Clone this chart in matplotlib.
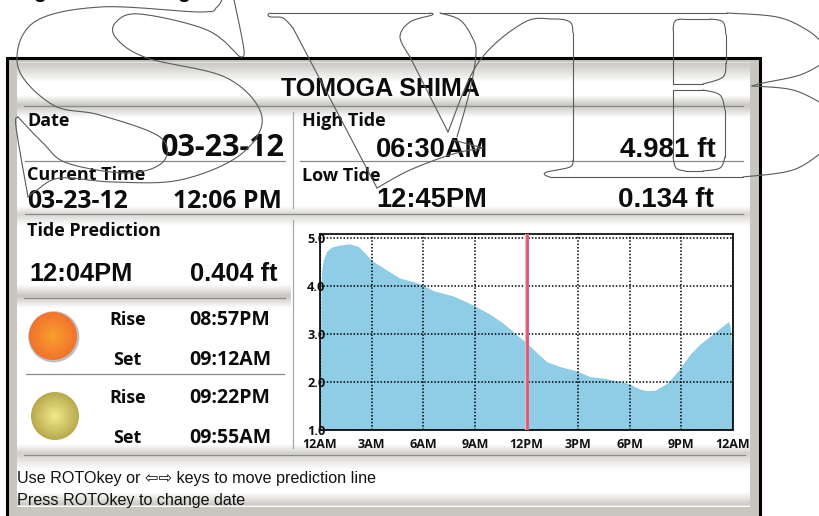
import numpy as np
import matplotlib
matplotlib.use("Agg")
from matplotlib import pyplot as plt
from matplotlib.patches import Circle, Rectangle

W, H = 819, 516

# tide curve
hours = [0, 0.06, 0.10, 0.19, 0.39, 0.68, 1.16, 1.74, 2.23, 2.62, 3.0, 3.88, 4.65, 5.43, 5.97,
         6.59, 7.75, 8.91, 9.88, 10.66, 11.43, 12.02, 12.6, 13.18, 13.95, 14.92, 15.7, 16.47,
         17.44, 17.93, 18.6, 18.99, 19.48, 20.16, 20.83, 21.51, 22.09, 22.87, 23.74, 23.84,
         23.93, 24]
tide_ft = [1.0, 4.1, 4.33, 4.54, 4.72, 4.81, 4.85, 4.875, 4.82, 4.68, 4.53, 4.33, 4.16, 4.09, 4.02,
           3.90, 3.79, 3.60, 3.41, 3.22, 2.98, 2.81, 2.61, 2.42, 2.32, 2.23, 2.11, 2.08,
           2.01, 1.97, 1.85, 1.82, 1.83, 1.97, 2.24, 2.58, 2.79, 3.01, 3.26, 3.15,
           2.6, 1.0]
cursor_hour = 12.04
x_ticks = [0, 3, 6, 9, 12, 15, 18, 21, 24]
x_labels = ["12AM", "3AM", "6AM", "9AM", "12PM", "3PM", "6PM", "9PM", "12AM"]
y_ticks = [1, 2, 3, 4, 5]
y_labels = ["1.0", "2.0", "3.0", "4.0", "5.0"]

# logo outline in image pixels, one list per stroke, split at the corners
logo_strokes = [
    [(233, -5), (244, 50), (240, 57)],
    [(240, 57), (207, 30), (140, 14), (116, 22), (116, 38), (147, 58), (227, 78), (262, 117),
     (240, 155), (180, 180), (113, 182), (60, 178), (37, 190), (28, 197)],
    [(28, 197), (16, 127), (18, 117)],
    [(18, 117), (43, 143), (67, 163), (127, 173), (163, 162), (160, 137), (100, 115), (53, 105),
     (18, 67), (33, 23), (100, 7), (200, 12), (217, 7), (224, -5)],
    [(270, 13), (430, 13)],
    [(430, 13), (432, 15), (410, 22), (400, 37), (410, 57)],
    [(410, 57), (448, 132)],
    [(448, 132), (478, 63), (523, 23), (553, 19), (570, 22), (573, 33)],
    [(573, 33), (573, 160)],
    [(573, 160), (570, 167), (547, 172), (545, 175), (550, 177)],
    [(550, 177), (743, 177)],
    [(743, 177), (793, 170), (825, 150)],
    [(270, 13), (268, 15), (271, 17), (283, 18), (293, 28)],
    [(293, 28), (377, 188)],
    [(377, 188), (410, 170), (453, 154), (483, 148)],
    [(483, 148), (453, 140)],
    [(457, 137), (470, 90), (476, 53), (472, 37), (460, 20), (440, 13)],
    [(440, 13), (727, 13)],
    [(727, 13), (777, 17), (807, 30), (825, 45)],
    [(825, 62), (800, 75), (763, 83), (752, 86)],
    [(752, 86), (793, 90), (825, 105)],
    [(673, 84), (673, 30)],
    [(673, 30), (675, 21), (683, 19)],
    [(683, 19), (710, 19)],
    [(710, 19), (723, 22), (726, 35)],
    [(726, 35), (726, 63)],
    [(726, 63), (723, 77), (703, 84)],
    [(703, 84), (673, 84)],
    [(673, 90), (703, 90)],
    [(703, 90), (720, 95), (725, 110)],
    [(725, 110), (725, 157)],
    [(725, 157), (720, 168), (703, 171)],
    [(703, 171), (685, 171)],
    [(685, 171), (676, 168), (673, 157)],
    [(673, 157), (673, 90)],
]

fig = plt.figure(figsize=(W / 100, H / 100), dpi=100, facecolor="white")
bg = fig.add_axes([0, 0, 1, 1])
bg.axis("off")


def band(x0, x1, y0, y1, peak, grey=(200, 198, 194)):
    # vertical grey gradient strip, white at the ends
    t = np.linspace(0, 1, 40)
    w = np.minimum(np.clip(t / peak, 0, 1), np.clip((1 - t) / (1 - peak), 0, 1))[:, None, None]
    img = np.array(grey)[None, None, :] / 255 * w + (1 - w)
    bg.imshow(img, extent=[x0, x1, y1, y0], aspect="auto", zorder=2, interpolation="bilinear")


def smooth(pts, n=14):
    # catmull-rom through the outline points
    p = np.array(pts, float)
    p = np.vstack([p[0], p, p[-1]])
    out = []
    for i in range(1, len(p) - 2):
        t = np.linspace(0, 1, n, endpoint=False)[:, None]
        a, b, c, d = p[i - 1], p[i], p[i + 1], p[i + 2]
        out.append(0.5 * (2 * b + (c - a) * t + (2 * a - 5 * b + 4 * c - d) * t ** 2 + (3 * b - a - 3 * c + d) * t ** 3))
    out.append(p[-2][None, :])
    return np.vstack(out)


def ball(cx, cy, r, inner, outer, glow=None):
    yy, xx = np.mgrid[-1:1:80j, -1:1:80j]
    d = np.clip(np.hypot(xx, yy), 0, 1)[:, :, None]
    img = np.array(inner)[None, None, :] * (1 - d) + np.array(outer)[None, None, :] * d
    if glow:
        bg.add_patch(Circle((cx + 0.8, cy + 0.8), r + 1.6, fc=glow, ec="none", alpha=0.45, zorder=3))
    im = bg.imshow(img / 255, extent=[cx - r, cx + r, cy + r, cy - r], aspect="auto", zorder=4)
    im.set_clip_path(Circle((cx, cy), r, transform=bg.transData))


# frame
bg.add_patch(Rectangle((7, 58), 753, 470, fc="#c9c5bf", ec="black", lw=2.2, zorder=1))
bg.add_patch(Rectangle((17, 62), 733, 445, fc="white", ec="none", zorder=1.5))

band(17, 750, 62, 82, 0.01)
band(17, 750, 95, 118, 0.45)
band(17, 750, 206, 226, 0.4, grey=(215, 213, 210))
band(17, 291, 284, 308, 0.5)
band(17, 750, 444, 470, 0.35, grey=(210, 208, 205))
band(17, 750, 492, 506, 0.99)

line_color = "#8a8a88"
for x0, x1, y in [(24, 743, 106), (25, 285, 161), (300, 743, 161), (25, 743, 214), (24, 285, 298),
                  (26, 284, 374), (24, 745, 455)]:
    bg.plot([x0, x1], [y, y], color=line_color, lw=0.9, zorder=3)
for y0, y1 in [(112, 208), (220, 448)]:
    bg.plot([292.5, 292.5], [y0, y1], color="#a8a8a6", lw=0.9, zorder=3)

ball(53, 336, 24, (250, 160, 45), (240, 115, 45), glow="#70707e")
ball(55, 416, 24, (240, 234, 140), (184, 170, 76))

bold = "Liberation Sans"
hum = "Open Sans"
labels = [
    ("TOMOGA SHIMA", 380, 96, 18.1, bold, "center"),
    ("Date", 27, 126, 13, hum, "left"),
    ("03-23-12", 285, 156, 22, hum, "right"),
    ("Current Time", 27, 180, 13, hum, "left"),
    ("03-23-12", 27, 208, 17.8, hum, "left"),
    ("12:06 PM", 282, 208, 17.8, hum, "right"),
    ("High Tide", 302, 126, 13, hum, "left"),
    ("Low Tide", 302, 181, 13, hum, "left"),
    ("06:30AM", 376, 157, 19.6, bold, "left"),
    ("4.981 ft", 716, 157, 20, bold, "right"),
    ("12:45PM", 376, 207, 19.6, bold, "left"),
    ("0.134 ft", 714, 207, 20, bold, "right"),
    ("Tide Prediction", 27, 236, 13, hum, "left"),
    ("12:04PM", 29, 281, 18.3, bold, "left"),
    ("0.404 ft", 277, 281, 18.3, bold, "right"),
    ("Rise", 109, 325, 13, hum, "left"),
    ("08:57PM", 189, 325, 14, hum, "left"),
    ("Set", 113, 365, 13, hum, "left"),
    ("09:12AM", 189, 365, 14, hum, "left"),
    ("Rise", 109, 403, 13, hum, "left"),
    ("09:22PM", 189, 403, 14, hum, "left"),
    ("Set", 113, 443, 13, hum, "left"),
    ("09:55AM", 189, 443, 14, hum, "left"),
]
for txt, x, y, size, fam, ha in labels:
    bg.text(x, y, txt, fontsize=size, family=fam, weight="bold", ha=ha, va="baseline", color="#0c0c0c", zorder=6)

bg.text(17, 483, "Use ROTOkey or \u21e6\u21e8 keys to move prediction line", fontsize=11.6,
        family=["Liberation Sans", "DejaVu Sans"], va="baseline", color="#111111", zorder=6)
bg.text(17, 505, "Press ROTOkey to change date", fontsize=11.6, family="Liberation Sans",
        va="baseline", color="#111111", zorder=6)

# descenders of the caption cut off at the top edge
for x in [40, 183]:
    bg.text(x, -1.5, "g", fontsize=15, family=bold, weight="bold", ha="center", va="baseline", color="black")

for pts in logo_strokes:
    c = smooth(pts)
    bg.plot(c[:, 0], c[:, 1], color="#5a5a5a", lw=0.8, zorder=10, solid_capstyle="round")

bg.set_xlim(0, W)
bg.set_ylim(H, 0)

# tide chart
ax = fig.add_axes([320 / W, 1 - 430 / H, 413 / W, 196 / H], zorder=5)
ax.set_facecolor("white")
ax.fill_between(hours, 1, tide_ft, color="#8ecde5", lw=0, zorder=1)
ax.set_xlim(0, 24)
ax.set_ylim(1, 5.08)
ax.set_xticks(x_ticks)
ax.set_xticklabels(x_labels, fontsize=9, family=hum, weight="bold")
ax.set_yticks(y_ticks)
ax.set_yticklabels(y_labels, fontsize=9.2, family=hum, weight="bold")
ax.tick_params(axis="x", length=0, pad=6, colors="#111111")
ax.tick_params(axis="y", length=0, pad=-4, colors="#111111")
ax.grid(True, color="black", ls=(0, (1, 1.2)), lw=1.1, zorder=2)
ax.set_axisbelow(False)
ax.axvline(cursor_hour, color="#f2b5bf", lw=3, zorder=3)
ax.axvline(cursor_hour, color="#dd5b72", lw=2, zorder=3)
for sp in ax.spines.values():
    sp.set_linewidth(1.3)
    sp.set_color("#111111")

fig.savefig("out.png", dpi=100)
